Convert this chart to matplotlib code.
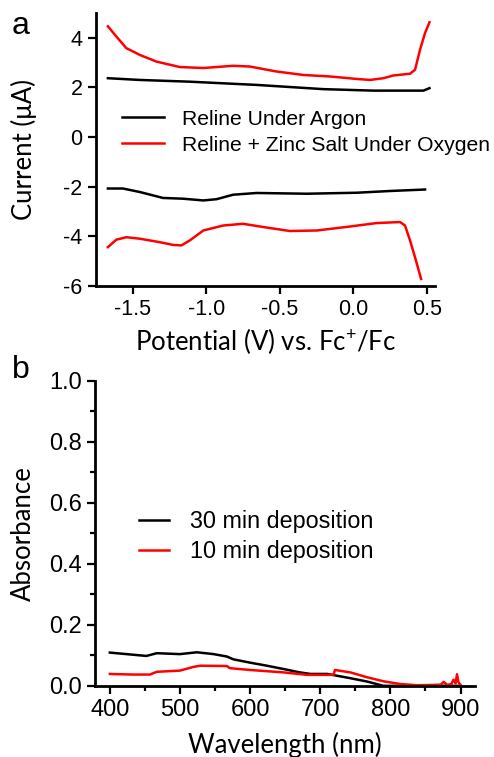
import numpy as np
import matplotlib.pyplot as plt

plt.rcParams['font.family'] = ['Liberation Sans', 'DejaVu Sans']
plt.rcParams['mathtext.fontset'] = 'custom'
plt.rcParams['mathtext.rm'] = 'Lato'
plt.rcParams['mathtext.default'] = 'regular'
plt.rcParams['axes.unicode_minus'] = False

# panel a: cyclic voltammetry (potential V vs Fc+/Fc, current uA)
argon_up_x = [-1.668, -1.452, -1.112, -0.658, -0.205, 0.135, 0.475, 0.516]
argon_up_y = [2.37, 2.30, 2.23, 2.10, 1.93, 1.87, 1.87, 1.97]
argon_dn_x = [-1.668, -1.566, -1.452, -1.294, -1.158, -1.02, -0.93, -0.818,
              -0.658, -0.318, 0.022, 0.248, 0.486]
argon_dn_y = [-2.07, -2.07, -2.21, -2.45, -2.48, -2.55, -2.50, -2.32,
              -2.25, -2.28, -2.24, -2.17, -2.11]
oxy_up_x = [-1.668, -1.611, -1.543, -1.452, -1.339, -1.18, -1.02, -0.818,
            -0.704, -0.523, -0.34, -0.16, 0.022, 0.112, 0.203, 0.271,
            0.384, 0.418, 0.452, 0.486, 0.516]
oxy_up_y = [4.46, 4.05, 3.58, 3.31, 3.04, 2.82, 2.78, 2.87,
            2.84, 2.64, 2.50, 2.44, 2.34, 2.30, 2.37, 2.48,
            2.55, 2.71, 3.52, 4.19, 4.62]
oxy_dn_x = [-1.668, -1.611, -1.543, -1.452, -1.316, -1.226, -1.169, -1.112,
            -1.02, -0.886, -0.75, -0.614, -0.432, -0.25, -0.024, 0.158,
            0.316, 0.35, 0.384, 0.418, 0.459]
oxy_dn_y = [-4.43, -4.13, -4.03, -4.09, -4.23, -4.34, -4.36, -4.16,
            -3.76, -3.56, -3.49, -3.62, -3.78, -3.76, -3.60, -3.46,
            -3.42, -3.56, -4.16, -4.84, -5.71]

# panel b: absorbance spectra
wl_30 = [400, 419, 452, 467, 500, 524, 548, 567, 576, 600, 624, 648, 671,
         686, 710, 743, 767, 790, 830, 870, 900]
ab_30 = [0.109, 0.105, 0.098, 0.107, 0.104, 0.110, 0.104, 0.096, 0.087,
         0.076, 0.066, 0.055, 0.044, 0.039, 0.039, 0.025, 0.014, 0.0,
         0.0, 0.0, 0.0]
wl_10 = [400, 433, 457, 467, 500, 519, 529, 567, 571, 600, 648, 681, 719,
         721, 743, 767, 790, 814, 838, 862, 872, 876, 881, 887, 890, 893,
         895, 897, 900]
ab_10 = [0.039, 0.037, 0.037, 0.046, 0.050, 0.062, 0.066, 0.065, 0.058,
         0.052, 0.044, 0.036, 0.036, 0.052, 0.044, 0.028, 0.015, 0.006,
         0.002, 0.003, 0.004, 0.013, 0.003, 0.006, 0.020, 0.008, 0.038,
         0.012, 0.003]

lw = 1.8
fig = plt.figure(figsize=(4.94, 7.57), dpi=100)

ax1 = fig.add_axes([0.194, 0.622, 0.687, 0.361])
ax1.plot(argon_up_x, argon_up_y, color='black', lw=lw, label='Reline Under Argon')
ax1.plot(oxy_up_x, oxy_up_y, color='red', lw=lw, label='Reline + Zinc Salt Under Oxygen')
ax1.plot(argon_dn_x, argon_dn_y, color='black', lw=lw)
ax1.plot(oxy_dn_x, oxy_dn_y, color='red', lw=lw)
ax1.set_xlim(-1.75, 0.555)
ax1.set_ylim(-6, 5.0)
ax1.set_xticks([-1.5, -1.0, -0.5, 0.0, 0.5])
ax1.set_xticklabels(['-1.5', '-1.0', '-0.5', '0.0', '0.5'])
ax1.set_yticks([4, 2, 0, -2, -4, -6])
ax1.set_xlabel('Potential (V) vs. Fc$^{+}$/Fc', family='Lato', fontsize=18.5,
               labelpad=4)
ax1.set_ylabel('Current (μA)', family='Lato', fontsize=18.5, labelpad=19)
ax1.legend(loc='upper left', bbox_to_anchor=(0.02, 0.715), frameon=False,
           fontsize=15.2, handlelength=2.0, handletextpad=0.85, labelspacing=0.32)
ax1.tick_params(labelsize=15.5)

ax2 = fig.add_axes([0.192, 0.094, 0.77, 0.403])
ax2.plot(wl_30, ab_30, color='black', lw=lw, label='30 min deposition')
ax2.plot(wl_10, ab_10, color='red', lw=lw, label='10 min deposition')
ax2.set_xlim(378.6, 921)
ax2.set_ylim(0, 1.0)
ax2.set_xticks([400, 500, 600, 700, 800, 900])
ax2.set_xticks(np.arange(450, 900, 100), minor=True)
ax2.set_yticks([0.0, 0.2, 0.4, 0.6, 0.8, 1.0])
ax2.set_yticks(np.arange(0.1, 1.0, 0.2), minor=True)
ax2.set_yticklabels(['0.0', '0.2', '0.4', '0.6', '0.8', '1.0'])
ax2.set_xlabel('Wavelength (nm)', family='Lato', fontsize=18.5, labelpad=8)
ax2.set_ylabel('Absorbance', family='Lato', fontsize=18.5, labelpad=9)
ax2.legend(loc='upper left', bbox_to_anchor=(0.06, 0.645), frameon=False,
           fontsize=16.8, handlelength=1.3, handletextpad=0.9, labelspacing=0.3)
ax2.tick_params(labelsize=17)

for ax in (ax1, ax2):
    ax.spines['top'].set_visible(False)
    ax.spines['right'].set_visible(False)
    ax.spines['left'].set_linewidth(2.0)
    ax.spines['bottom'].set_linewidth(2.0)
    ax.tick_params(which='major', direction='out', length=6, width=1.6)
    ax.tick_params(which='minor', direction='out', length=3.5, width=1.6)

fig.text(0.024, 0.955, 'a', fontsize=23)
fig.text(0.024, 0.500, 'b', fontsize=23)

fig.savefig('out.png', dpi=100)
